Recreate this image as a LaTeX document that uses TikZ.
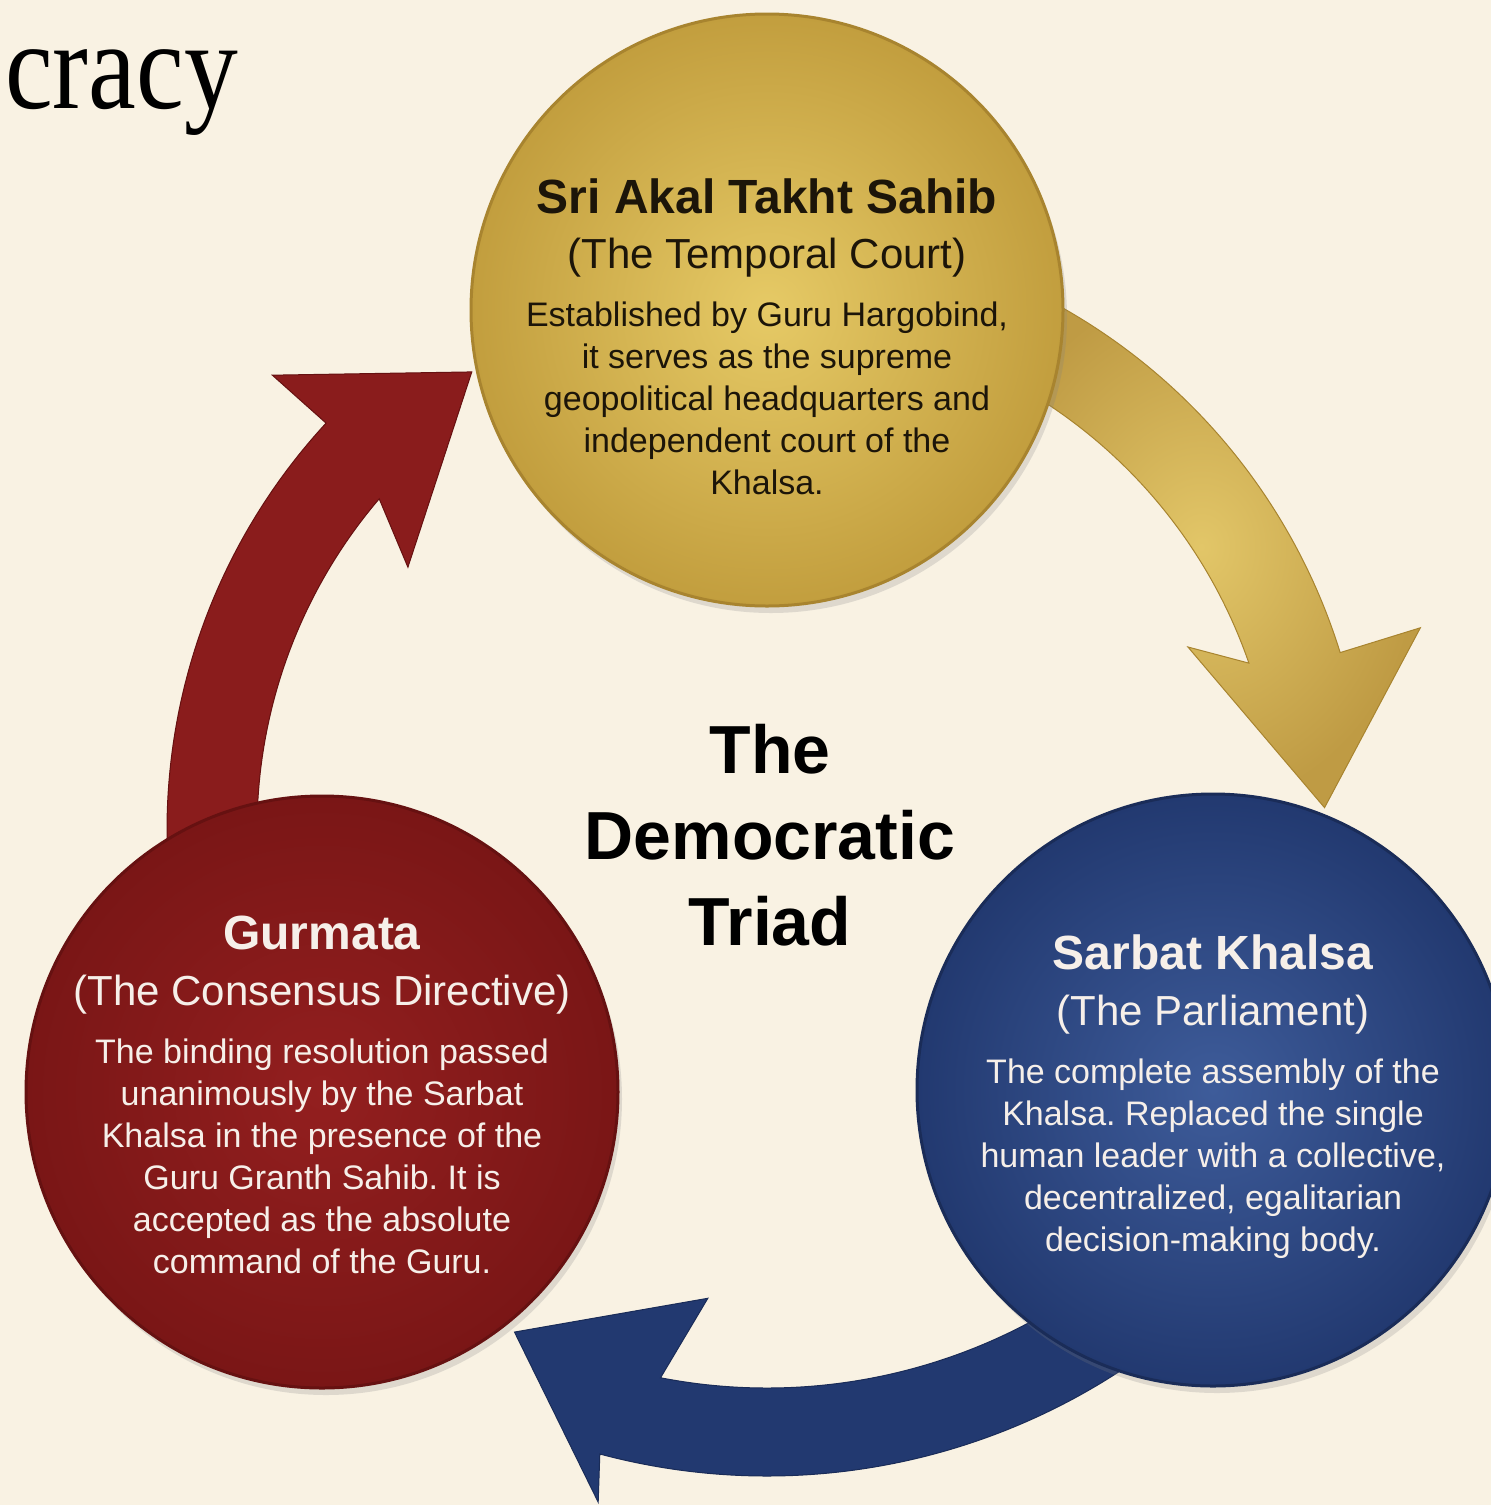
\documentclass[tikz,border=0pt]{standalone}
\usepackage{fontspec}
\setmainfont{Liberation Sans}
\newfontfamily\headserif{Liberation Serif}
\usetikzlibrary{calc,shadows}
\frenchspacing

\definecolor{paper}{HTML}{F9F2E3}
\definecolor{ink}{HTML}{1C1509}
\definecolor{chalk}{HTML}{F6EFE9}
\definecolor{goldlite}{HTML}{E6CA66}
\definecolor{golddark}{HTML}{C29E3E}
\definecolor{goldrim}{HTML}{A8842F}
\definecolor{goldarrowlite}{HTML}{E2C668}
\definecolor{goldarrowdark}{HTML}{BF9B44}
\definecolor{redlite}{HTML}{931F1F}
\definecolor{reddark}{HTML}{7A1616}
\definecolor{redrim}{HTML}{661111}
\definecolor{redarrow}{HTML}{8A1C1C}
\definecolor{bluelite}{HTML}{3E5C9A}
\definecolor{bluedark}{HTML}{223970}
\definecolor{bluerim}{HTML}{1A2C58}

\begin{document}
\begin{tikzpicture}[x=1pt,y=1pt,
    disc/.style={circle,minimum size=592pt,inner sep=0pt,line width=3pt,
      drop shadow={shadow xshift=4pt,shadow yshift=-7pt,opacity=.22}},
    disctitle/.style={font=\fontsize{48}{56}\selectfont\bfseries,anchor=base,inner sep=0pt},
    discsub/.style={font=\fontsize{42}{50}\selectfont,anchor=base,inner sep=0pt},
    discbody/.style={font=\fontsize{34}{42}\selectfont,align=center,anchor=north,inner sep=0pt}]
  \clip (0,0) rectangle (1491,-1505);
  \fill[paper] (0,0) rectangle (1491,-1505);

  \node[anchor=base east,inner sep=0pt,text=black] (heading) at (238,-108)
    {\headserif\fontsize{125}{125}\selectfont\scalebox{0.86}[1]{cracy}};

  \coordinate (hub) at (767,-830);

  % the three arrows round the hub
  \shade[inner color=goldarrowlite,outer color=goldarrowdark,draw=goldrim,line width=1pt]
    ($(hub)+(65:600)$) arc[start angle=65,end angle=17.2,radius=600]
    -- ($(hub)+(17.2:684)$) -- ($(hub)+(2.3:558)$) -- ($(hub)+(23.5:459)$)
    -- ($(hub)+(19.1:510)$) arc[start angle=19.1,end angle=65,radius=510] -- cycle;
  \fill[redarrow,draw=redrim,line width=1pt]
    ($(hub)+(185:600)$) arc[start angle=185,end angle=137.3,radius=600]
    -- ($(hub)+(137.4:672)$) -- ($(hub)+(122.8:545)$) -- ($(hub)+(143.8:445)$)
    -- ($(hub)+(139.5:510)$) arc[start angle=139.5,end angle=185,radius=510] -- cycle;
  \shade[left color=bluedark,middle color=bluelite,right color=bluedark,draw=bluerim,line width=1pt]
    ($(hub)+(310:646)$) arc[start angle=310,end angle=255,radius=646]
    -- ($(hub)+(255.9:693)$) -- ($(hub)+(243.3:562)$) -- ($(hub)+(262.8:472)$)
    -- ($(hub)+(259:558)$) arc[start angle=259,end angle=310,radius=558] -- cycle;

  % the discs
  \node[disc,draw=goldrim,inner color=goldlite,outer color=golddark] (akal) at (767,-310) {};
  \node[disc,draw=redrim,inner color=redlite,outer color=reddark] (gurmata) at (322,-1092) {};
  \node[disc,draw=bluerim,inner color=bluelite,outer color=bluedark] (sarbat) at (1213,-1090) {};

  \node[disctitle,text=ink] (akaltitle) at (767,-213) {Sri Akal Takht Sahib};
  \node[discsub,text=ink] (akalsub) at (767,-268) {(The Temporal Court)};
  \node[discbody,text=ink] (akalbody) at (767,-302)
    {Established by Guru Hargobind,\\ it serves as the supreme\\ geopolitical headquarters and\\ independent court of the\\ Khalsa.};

  \node[disctitle,text=chalk] (gurmatatitle) at (322,-949) {Gurmata};
  \node[discsub,text=chalk] (gurmatasub) at (322,-1005) {(The Consensus Directive)};
  \node[discbody,text=chalk] (gurmatabody) at (322,-1039)
    {The binding resolution passed\\ unanimously by the Sarbat\\ Khalsa in the presence of the\\ Guru Granth Sahib. It is\\ accepted as the absolute\\ command of the Guru.};

  \node[disctitle,text=chalk] (sarbattitle) at (1213,-969) {Sarbat Khalsa};
  \node[discsub,text=chalk] (sarbatsub) at (1213,-1025) {(The Parliament)};
  \node[discbody,text=chalk] (sarbatbody) at (1213,-1059)
    {The complete assembly of the\\ Khalsa. Replaced the single\\ human leader with a collective,\\ decentralized, egalitarian\\ decision-making body.};

  \node[font=\fontsize{68}{86}\selectfont\bfseries,align=center,anchor=north,inner sep=0pt,text=black]
    (triad) at (770,-724) {The\\ Democratic\\ Triad};
\end{tikzpicture}
\end{document}
